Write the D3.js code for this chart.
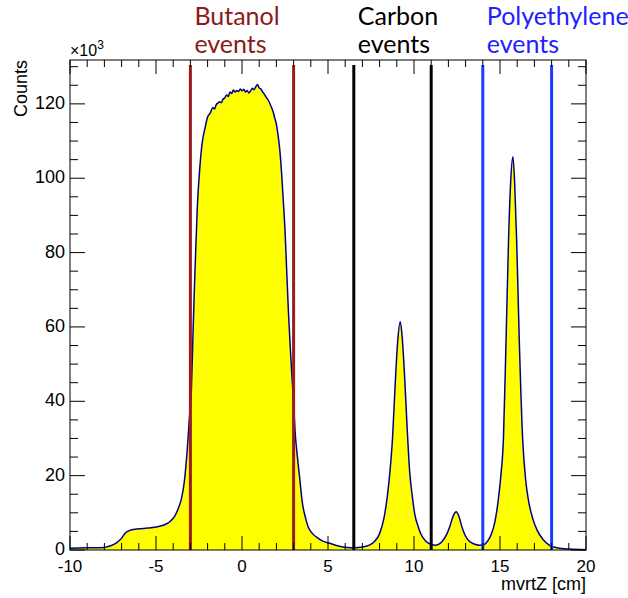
<!DOCTYPE html>
<html>
<head>
<meta charset="utf-8">
<script src="https://cdn.jsdelivr.net/npm/d3@7"></script>
<style>
  body { margin: 0; background: #fff; }
  svg text { font-family: "Liberation Sans", Arial, sans-serif; }
</style>
</head>
<body>
<svg id="chart" width="628" height="598"></svg>
<script>
// vertex z positions (cm) and counts (in units of 10^3)
var zPos = [-10, -9, -8, -7.6, -7.3, -7.0, -6.8, -6.5, -6.0, -5.5, -5.0, -4.5, -4.2, -3.9, -3.7, -3.5, -3.35, -3.2, -3.05,
    -2.95, -2.85, -2.75, -2.6, -2.45, -2.3, -2.15, -2.0, -1.85, -1.7, -1.6, -1.5, -1.4, -1.3, -1.2, -1.1, -1.0, -0.9, -0.8,
    -0.7, -0.6, -0.5, -0.4, -0.3, -0.2, -0.1, 0.0, 0.1, 0.2, 0.3, 0.4, 0.5, 0.6, 0.7, 0.8, 0.9, 1.0, 1.1, 1.2, 1.3, 1.4,
    1.5, 1.6, 1.7, 1.8, 1.9, 2.0, 2.1, 2.2, 2.3, 2.4, 2.5, 2.6, 2.7, 2.8, 2.9, 3.0, 3.1, 3.2, 3.35, 3.5, 3.7, 3.85, 4.1,
    4.35, 4.7, 5.1, 5.6, 6.1, 6.6, 7.0, 7.4, 7.7, 8.0, 8.25, 8.45, 8.6, 8.75, 8.9, 9.05, 9.2, 9.3, 9.45, 9.6, 9.75, 9.9,
    10.05, 10.25, 10.4, 10.7, 11.0, 11.25, 11.5, 11.7, 11.9, 12.1, 12.3, 12.45, 12.6, 12.8, 13.0, 13.2, 13.5, 13.8, 14.05,
    14.3, 14.5, 14.7, 14.9, 15.05, 15.2, 15.35, 15.5, 15.62, 15.75, 15.85, 15.97, 16.12, 16.32, 16.5, 16.65, 16.9, 17.15,
    17.5, 17.9, 18.3, 19.0, 20];
var counts = [0.5, 0.6, 0.7, 1.2, 1.9, 3.2, 4.5, 5.3, 5.7, 5.9, 6.2, 6.8, 7.6, 9.2, 11.2, 14.2, 18.5, 26, 36,
    42, 58, 73, 92, 103, 110, 113.5, 116.5, 117.5, 119, 118.6, 119.8, 120.2, 120.6, 120.3, 121.3, 121.6, 122.4, 122.0,
    123.2, 122.8, 123.7, 123.2, 123.6, 123.3, 124.0, 123.5, 123.9, 123.2, 123.6, 122.9, 123.5, 124.2, 123.8, 124.6, 125.2, 124.3, 124.0, 123.2, 122.6, 121.8,
    121.2, 120.3, 119.2, 118.0, 116.3, 114.5, 111.5, 107.5, 101.5, 94, 86, 75, 64, 55, 47, 39.5, 31, 26, 19.5, 13, 8.5, 6.2, 4.4,
    3.4, 2.4, 1.8, 1.1, 0.7, 0.6, 0.8, 1.3, 2.3, 4.4, 8.5, 14.5, 21, 30, 44, 56, 61.4, 58, 47, 33, 21, 14.5,
    9.5, 6.2, 4.3, 2.3, 1.5, 1.3, 1.7, 2.7, 4.2, 6.6, 9.4, 10.3, 9.2, 6.0, 3.7, 2.4, 1.6, 1.3, 1.4,
    2.5, 4.3, 7.5, 13.5, 20, 30, 56, 84, 99, 105.8, 99, 83, 56.5, 29.6, 18.5, 13.5, 8.5, 5.4,
    2.8, 1.2, 0.6, 0.25, 0.1];

var xTicks = [-10, -5, 0, 5, 10, 15, 20];
var yTicks = [0, 20, 40, 60, 80, 100, 120];

// selection cuts
var cutLabels = [["Butanol", "events"], ["Carbon", "events"], ["Polyethylene", "events"]];
var cutEdges = [[-3, 3], [6.5, 11], [14, 18]];
var cutColors = ["#9b1c1c", "#000000", "#1a3dff"];
var labelColors = ["#8b1a1a", "#000000", "#1e22ff"];

var margin = {top: 60, right: 42, bottom: 48, left: 70},
    width = 628 - margin.left - margin.right,
    height = 598 - margin.top - margin.bottom;

var svg = d3.select("#chart");
var g = svg.append("g")
    .attr("transform", "translate(" + margin.left + "," + margin.top + ")");

var x = d3.scaleLinear().domain([-10, 20]).range([0, width]);
var y = d3.scaleLinear().domain([0, 131.8]).range([height, 0]);

var data = zPos.map(function (z, i) { return {z: z, c: counts[i]}; });

// filled histogram
var area = d3.area()
    .x(function (d) { return x(d.z); })
    .y0(height)
    .y1(function (d) { return y(d.c); })
    .curve(d3.curveMonotoneX);
var line = d3.line()
    .x(function (d) { return x(d.z); })
    .y(function (d) { return y(d.c); })
    .curve(d3.curveMonotoneX);

g.append("path").datum(data)
    .attr("fill", "#ffff00")
    .attr("d", area);
g.append("path").datum(data)
    .attr("fill", "none")
    .attr("stroke", "#00008f")
    .attr("stroke-width", 1.5)
    .attr("d", line);

// cut lines
cutEdges.forEach(function (pair, i) {
    pair.forEach(function (v) {
        g.append("line")
            .attr("x1", x(v)).attr("x2", x(v))
            .attr("y1", 5).attr("y2", height)
            .attr("stroke", cutColors[i])
            .attr("stroke-width", 3);
    });
});

// frame
g.append("rect")
    .attr("width", width).attr("height", height)
    .attr("fill", "none").attr("stroke", "#000").attr("stroke-width", 1);

// ticks on all four sides (ROOT style, pointing inward)
function tickLines(vals, len, axis) {
    vals.forEach(function (v) {
        if (axis === "x") {
            g.append("line").attr("x1", x(v)).attr("x2", x(v))
                .attr("y1", height).attr("y2", height - len).attr("stroke", "#000");
            g.append("line").attr("x1", x(v)).attr("x2", x(v))
                .attr("y1", 0).attr("y2", len).attr("stroke", "#000");
        } else {
            g.append("line").attr("y1", y(v)).attr("y2", y(v))
                .attr("x1", 0).attr("x2", len).attr("stroke", "#000");
            g.append("line").attr("y1", y(v)).attr("y2", y(v))
                .attr("x1", width).attr("x2", width - len).attr("stroke", "#000");
        }
    });
}
tickLines(d3.range(-10, 20.01, 1).filter(function (v) { return v % 5 !== 0; }), 7, "x");
tickLines(xTicks, 14, "x");
tickLines(d3.range(0, 131, 5).filter(function (v) { return v % 20 !== 0; }), 8, "y");
tickLines(yTicks, 15, "y");

// tick labels
g.selectAll(".xl").data(xTicks).enter().append("text")
    .attr("x", function (d) { return x(d); })
    .attr("y", height + 22)
    .attr("text-anchor", "middle")
    .style("font-size", "17px")
    .text(function (d) { return d; });
g.selectAll(".yl").data(yTicks).enter().append("text")
    .attr("x", -5)
    .attr("y", function (d) { return y(d) + 5; })
    .attr("text-anchor", "end")
    .style("font-size", "18px")
    .text(function (d) { return d; });

// axis titles
g.append("text")
    .attr("x", width).attr("y", height + 40)
    .attr("text-anchor", "end")
    .style("font-size", "18px")
    .text("mvrtZ [cm]");
g.append("text")
    .attr("transform", "rotate(-90)")
    .attr("x", 0).attr("y", -43)
    .attr("text-anchor", "end")
    .style("font-size", "18px")
    .text("Counts");
var mult = g.append("text")
    .attr("x", 0).attr("y", -4)
    .style("font-size", "16px");
mult.append("tspan").text("\u00d710");
mult.append("tspan").attr("dy", -7).style("font-size", "12px").text("3");

// region labels
cutLabels.forEach(function (lines, i) {
    var t = svg.append("text")
        .attr("x", margin.left + x(cutEdges[i][0]) + 4)
        .attr("y", 25)
        .attr("fill", labelColors[i])
        .style("font-family", "Lato, 'Open Sans', sans-serif")
        .style("font-size", "25px");
    t.append("tspan").text(lines[0]);
    t.append("tspan").attr("x", margin.left + x(cutEdges[i][0]) + 4).attr("dy", 28).text(lines[1]);
});
</script>
</body>
</html>
